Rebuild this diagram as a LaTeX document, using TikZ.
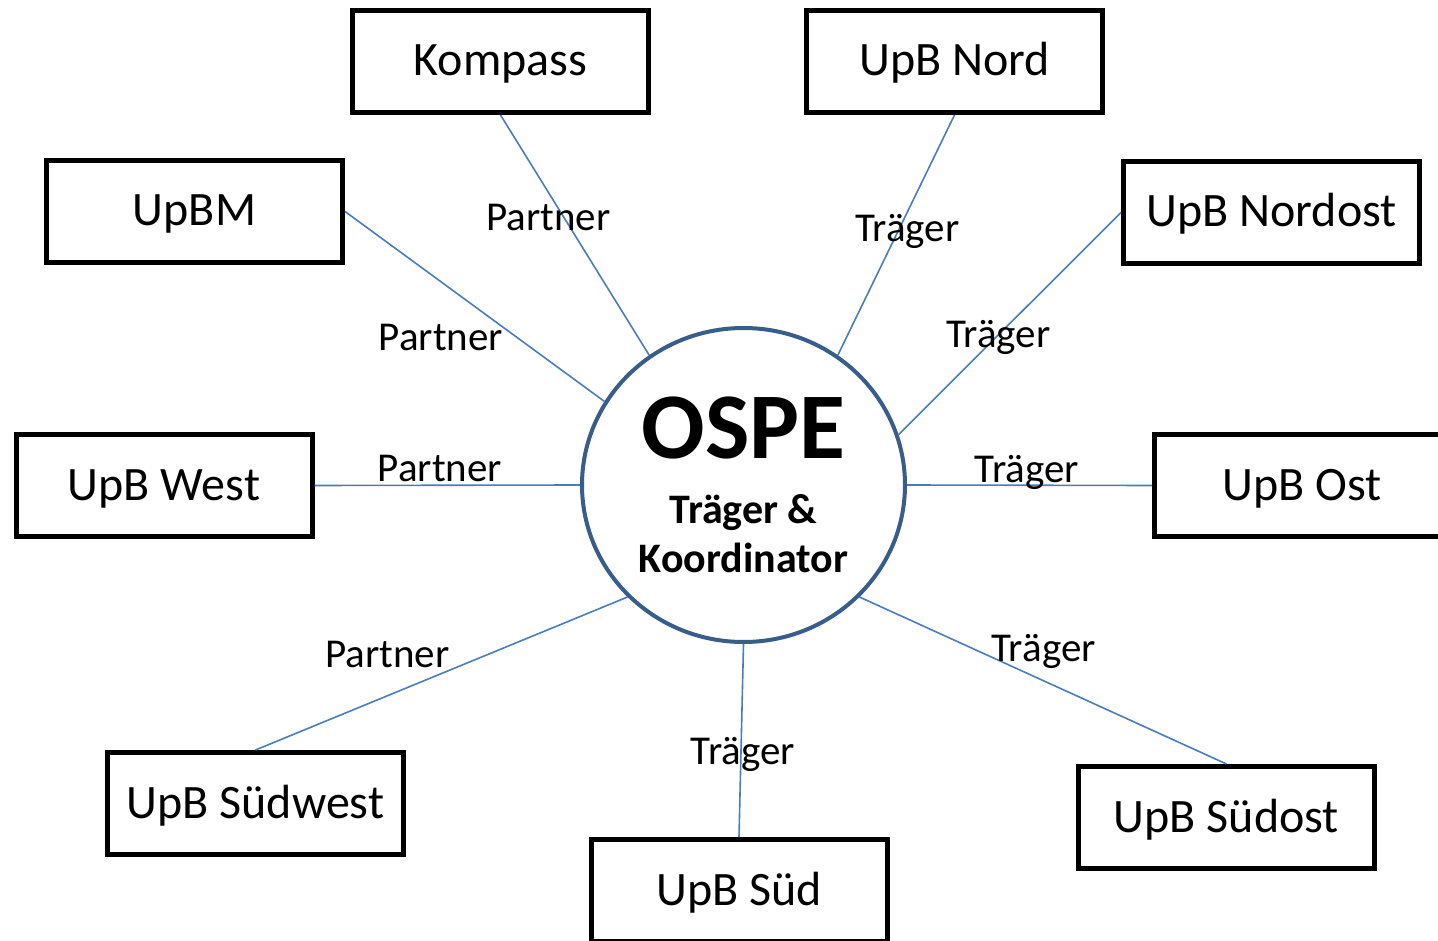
\documentclass[tikz,border=0pt]{standalone}
\usepackage{fontspec}
\setmainfont{Carlito}
\usetikzlibrary{shapes.geometric}
\definecolor{hubline}{HTML}{385D8A}
\definecolor{linkline}{HTML}{4A7EBB}
\tikzstyle{unit} = [rectangle, minimum width=296pt, minimum height=102pt, inner sep=0pt, text height=33pt, text depth=4pt, text centered, draw=black, line width=5pt, font=\fontsize{48}{58}\selectfont]
\tikzstyle{hub} = [ellipse, minimum width=323pt, minimum height=314pt, inner sep=0pt, align=center, draw=hubline, line width=4pt, fill=white, font=\bfseries\fontsize{42}{49}\selectfont]
\tikzstyle{link} = [draw=linkline, line width=1.6pt]
\tikzstyle{role} = [anchor=base, inner sep=0pt, font=\fontsize{41}{48}\selectfont]
\begin{document}
\begin{tikzpicture}[x=1pt, y=-1pt]
	\clip (0,0) rectangle (1438,941);
	\node (ospe) [hub] at (743.5,485) {{\fontsize{94}{94}\selectfont OSPE}\\[16pt]Träger \&\\Koordinator};
	\node (kompass) [unit] at (500.5,61.5) {Kompass};
	\node (nord) [unit] at (954.5,61.5) {UpB Nord};
	\node (upbm) [unit] at (194.5,211.5) {UpBM};
	\node (nordost) [unit] at (1271.5,212.5) {UpB Nordost};
	\node (west) [unit] at (164,485.5) {UpB West};
	\node (ost) [unit] at (1302.5,485.5) {UpB Ost};
	\node (suedwest) [unit] at (255.5,803.5) {UpB Südwest};
	\node (suedost) [unit] at (1226.5,817.5) {UpB Südost};
	\node (sued) [unit] at (739,890.5) {UpB Süd};
	\draw [link] (kompass.south) -- node[role, pos=.397, xshift=-11, yshift=-20]{Partner} (ospe.126);
	\draw [link] (nord.south) -- node[role, pos=.465, xshift=7, yshift=-15]{Träger} (ospe.54.6);
	\draw [link] (upbm.east) -- node[role, pos=.474, xshift=-27, yshift=-49]{Partner} (ospe.149);
	\draw [link] (nordost.west) -- node[role, pos=.551, yshift=-13]{Träger} (ospe.18.3);
	\draw [link] (west.east) -- node[role, pos=.472, yshift=3.5]{Partner} (ospe.west);
	\draw [link] (ost.west) -- node[role, pos=.51, yshift=3]{Träger} (ospe.east);
	\draw [link] (suedwest.north) -- node[role, pos=.392, xshift=-14, yshift=23]{Partner} (ospe.224.3);
	\draw [link] (suedost.north) -- node[role, pos=.531, xshift=12, yshift=14]{Träger} (ospe.316);
	\draw [link] (sued.north) -- node[role, pos=.443, xshift=2, yshift=-13]{Träger} (ospe.south);
\end{tikzpicture}
\end{document}
